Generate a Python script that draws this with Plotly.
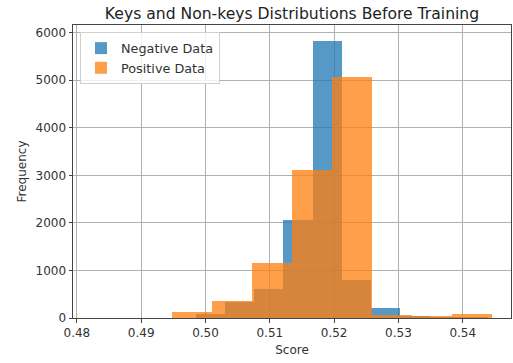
import plotly.graph_objects as go

# Histogram data
neg_edges = [0.4985, 0.5030, 0.5076, 0.5121, 0.5167, 0.5212, 0.5258, 0.5303, 0.5349, 0.5394, 0.5440]
neg_counts = [90, 345, 618, 2056, 5832, 793, 218, 52, 6, 2]
pos_edges = [0.4948, 0.5010, 0.5072, 0.5135, 0.5197, 0.5259, 0.5321, 0.5384, 0.5446]
pos_counts = [130, 352, 1158, 3109, 5060, 60, 26, 84]
x_ticks = [0.48, 0.49, 0.50, 0.51, 0.52, 0.53, 0.54]
x_tick_labels = ["0.48", "0.49", "0.50", "0.51", "0.52", "0.53", "0.54"]
y_ticks = [0, 1000, 2000, 3000, 4000, 5000, 6000]


def centers_widths(edges):
    c = [(edges[i] + edges[i + 1]) / 2 for i in range(len(edges) - 1)]
    w = [edges[i + 1] - edges[i] for i in range(len(edges) - 1)]
    return c, w


nc, nw = centers_widths(neg_edges)
pc, pw = centers_widths(pos_edges)

font = "DejaVu Sans"
fig = go.Figure()
fig.add_trace(go.Bar(x=nc, y=neg_counts, width=nw, name="Negative Data",
                     marker=dict(color="#1f77b4", line=dict(width=0)), opacity=0.75))
fig.add_trace(go.Bar(x=pc, y=pos_counts, width=pw, name="Positive Data",
                     marker=dict(color="#ff7f0e", line=dict(width=0)), opacity=0.75))

axis_common = dict(showgrid=True, gridcolor="#b0b0b0", gridwidth=0.8,
                   showline=True, linecolor="#444", linewidth=1, mirror=True,
                   ticks="outside", ticklen=3.5, tickcolor="#444", zeroline=False,
                   tickfont=dict(family=font, size=12, color="#333"),
                   layer="above traces")

fig.update_layout(
    width=513, height=363,
    margin=dict(l=73, r=2, t=25, b=45),
    paper_bgcolor="white", plot_bgcolor="white",
    barmode="overlay", bargap=0,
    title=dict(text="Keys and Non-keys Distributions Before Training",
               x=0.5, xref="paper", xanchor="center", y=0.963, yanchor="middle",
               font=dict(family=font, size=15.6, color="#222")),
    xaxis=dict(range=[0.4794, 0.5475], tickvals=x_ticks, ticktext=x_tick_labels,
               title=dict(text="Score", font=dict(family=font, size=12, color="#333"), standoff=6),
               **axis_common),
    yaxis=dict(range=[0, 6160], tickvals=y_ticks,
               title=dict(text="Frequency", font=dict(family=font, size=12, color="#333"), standoff=6),
               **axis_common),
    legend=dict(x=0.016, y=0.975, xanchor="left", yanchor="top",
                bgcolor="rgba(255,255,255,0.8)", bordercolor="#d0d0d0", borderwidth=1,
                font=dict(family=font, size=12.8, color="#333"), tracegroupgap=0),
    showlegend=True,
)

fig.write_html("out.html")
